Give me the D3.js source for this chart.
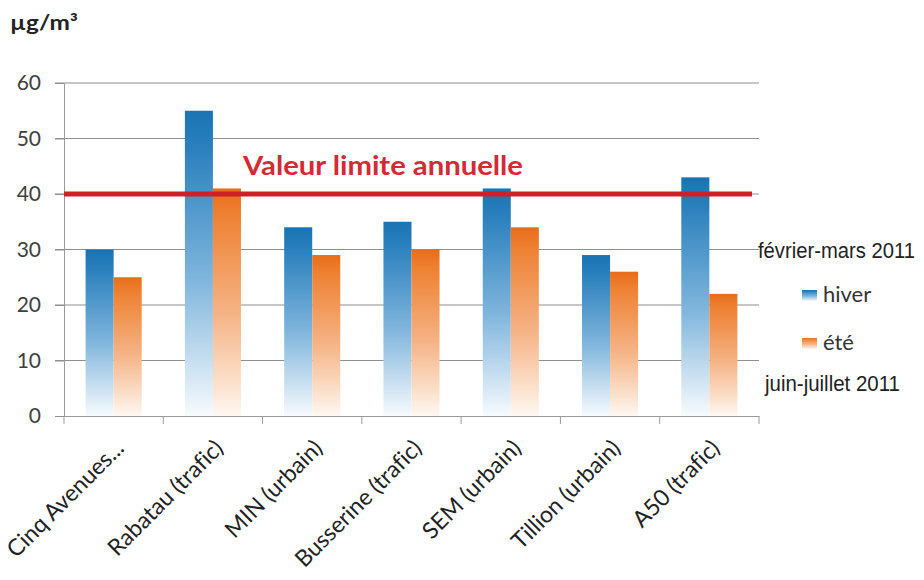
<!DOCTYPE html>
<html>
<head>
<meta charset="utf-8">
<script src="https://cdn.jsdelivr.net/npm/d3@7"></script>
<style>
  html, body { margin: 0; padding: 0; background: #fff; }
  svg { display: block; }
  text { font-variant-ligatures: none; font-feature-settings: "liga" 0; }
</style>
</head>
<body>
<svg id="chart" width="924" height="580"></svg>
<script>
// NO2 concentrations per measurement site, winter vs summer campaigns
const categories = ["Cinq Avenues...", "Rabatau (trafic)", "MIN (urbain)", "Busserine (trafic)", "SEM (urbain)", "Tillion (urbain)", "A50 (trafic)"];
const hiver = [30, 55, 34, 35, 41, 29, 43];
const ete = [25, 41, 29, 30, 34, 26, 22];
const seriesKeys = ["hiver", "ete"];
const seriesLabels = ["hiver", "été"];
const yTicks = [0, 10, 20, 30, 40, 50, 60];
const limitValue = 40;
const limitLabel = "Valeur limite annuelle";
const unitLabel = "µg/m³";
const periodWinter = "février-mars 2011";
const periodSummer = "juin-juillet 2011";

const svg = d3.select("#chart");
const font = "Lato, 'Open Sans', sans-serif";
const narrow = "'Liberation Sans Narrow', 'Liberation Sans', Arial, sans-serif";

const plot = { left: 64, right: 759, top: 83, bottom: 416 };

const x = d3.scaleBand().domain(categories).range([plot.left, plot.right]).padding(0);
const xs = d3.scaleBand().domain(seriesKeys).range([0, x.bandwidth()]).paddingInner(0).paddingOuter(0.77);
const y = d3.scaleLinear().domain([0, 60]).range([plot.bottom, plot.top]);

// vertical fades for the bars
const defs = svg.append("defs");
function fade(id, stops) {
  const g = defs.append("linearGradient").attr("id", id)
    .attr("x1", 0).attr("y1", 0).attr("x2", 0).attr("y2", 1);
  stops.forEach(([o, c]) => g.append("stop").attr("offset", o).attr("stop-color", c));
}
fade("grad-hiver", [[0, "#1a73b3"], [0.12, "#2a80bd"], [0.55, "#7fb5dc"], [0.85, "#cfe3f2"], [1, "#f7fbfe"]]);
fade("grad-ete", [[0, "#e86d1a"], [0.12, "#ee8234"], [0.55, "#f5b385"], [0.85, "#fbe0cb"], [1, "#fef8f3"]]);

// gridlines
svg.append("g")
  .selectAll("line").data(yTicks.filter(d => d > 0)).join("line")
  .attr("x1", plot.left - 9).attr("x2", plot.right)
  .attr("y1", d => y(d)).attr("y2", d => y(d))
  .attr("stroke", "#8f8f8f").attr("stroke-width", 1);

// y axis
const yAxis = svg.append("g").attr("transform", `translate(${plot.left},0)`)
  .call(d3.axisLeft(y).tickValues(yTicks).tickSize(9).tickPadding(14));
yAxis.select(".domain").attr("stroke", "#9a9a9a");
yAxis.selectAll(".tick line").attr("stroke", "#8f8f8f");
yAxis.selectAll("text").attr("font-family", font).attr("font-size", 21).attr("fill", "#404040");

// bars
const rows = categories.map((c, i) => ({ cat: c, hiver: hiver[i], ete: ete[i] }));
const groups = svg.append("g").selectAll("g").data(rows).join("g")
  .attr("transform", d => `translate(${x(d.cat)},0)`);
groups.selectAll("rect").data(d => seriesKeys.map(k => ({ key: k, value: d[k] }))).join("rect")
  .attr("x", d => xs(d.key))
  .attr("width", xs.bandwidth())
  .attr("y", d => y(d.value))
  .attr("height", d => y(0) - y(d.value))
  .attr("fill", d => `url(#grad-${d.key})`);

// x axis
const xAxis = svg.append("g").attr("transform", `translate(0,${plot.bottom})`)
  .call(d3.axisBottom(x).tickSize(0).tickFormat(""));
xAxis.select(".domain").attr("stroke", "#9a9a9a");
svg.append("g").selectAll("line").data(d3.range(categories.length + 1)).join("line")
  .attr("x1", i => plot.left + i * x.step()).attr("x2", i => plot.left + i * x.step())
  .attr("y1", plot.bottom).attr("y2", plot.bottom + 8)
  .attr("stroke", "#9a9a9a");

// rotated category labels
svg.append("g").selectAll("text").data(categories).join("text")
  .attr("transform", d => `translate(${x(d) + x.bandwidth() / 2 + 6},${plot.bottom + 28}) rotate(-45)`)
  .attr("text-anchor", "end")
  .attr("dy", "0.35em")
  .attr("font-family", font).attr("font-size", 23).attr("fill", "#222")
  .text(d => d);

// annual limit line
svg.append("line")
  .attr("x1", plot.left).attr("x2", plot.right - 7)
  .attr("y1", y(limitValue)).attr("y2", y(limitValue))
  .attr("stroke", "#d11f26").attr("stroke-width", 5);
svg.append("text")
  .attr("x", 243).attr("y", y(limitValue) - 19)
  .attr("font-family", font).attr("font-weight", "bold").attr("font-size", 27)
  .attr("fill", "#d42a36")
  .attr("textLength", 280).attr("lengthAdjust", "spacingAndGlyphs")
  .text(limitLabel);

// unit
svg.append("text")
  .attr("x", 10).attr("y", 30)
  .attr("font-family", font).attr("font-weight", "bold").attr("font-size", 21)
  .attr("fill", "#222")
  .attr("textLength", 68).attr("lengthAdjust", "spacingAndGlyphs")
  .text(unitLabel);

// legend: period captions in a condensed face
svg.append("text").attr("transform", "translate(758,258) scale(0.92,1)")
  .attr("font-family", narrow).attr("font-size", 22).attr("fill", "#222")
  .text(periodWinter);
svg.append("text").attr("transform", "translate(765,391) scale(0.93,1)")
  .attr("font-family", narrow).attr("font-size", 22).attr("fill", "#222")
  .text(periodSummer);
const legend = svg.append("g").selectAll("g").data(seriesKeys).join("g")
  .attr("transform", (d, i) => `translate(802,${302 + i * 48})`);
legend.append("rect").attr("x", 0).attr("y", -12).attr("width", 15).attr("height", 11)
  .attr("fill", d => `url(#grad-${d})`);
legend.append("text").attr("x", 21).attr("y", 0)
  .attr("font-family", font).attr("font-size", 22).attr("fill", "#333")
  .text((d, i) => seriesLabels[i]);
</script>
</body>
</html>
